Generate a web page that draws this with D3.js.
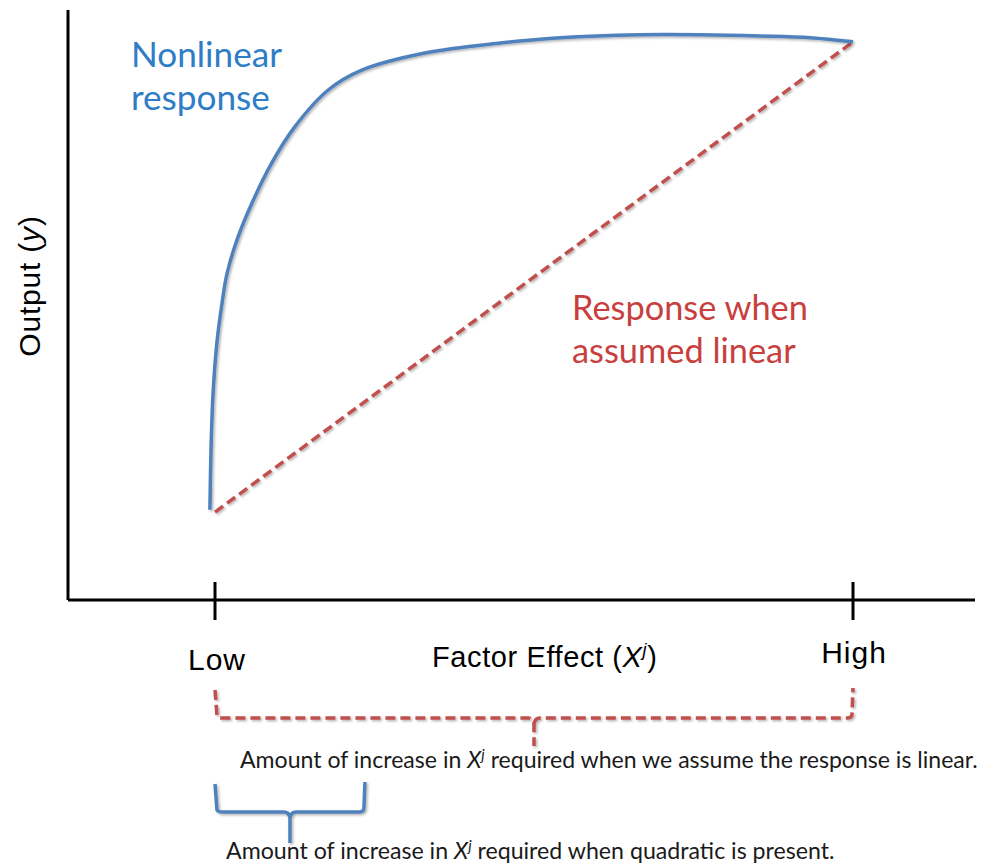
<!DOCTYPE html>
<html>
<head>
<meta charset="utf-8">
<script src="https://cdn.jsdelivr.net/npm/d3@7"></script>
<style>
  body { margin: 0; background: #fff; }
  svg { display: block; }
</style>
</head>
<body>
<svg width="984" height="867"></svg>
<script>
// factor level positions (0 = Low, 1 = High)
const levels = ['Low', 'High'];
const levelX = [0, 1];

// nonlinear response
const curveX = [-0.008, -0.006, -0.003, 0.003, 0.011, 0.019, 0.036, 0.058, 0.089, 0.125,
  0.177, 0.230, 0.329, 0.447, 0.541, 0.666, 0.760, 0.854, 0.933, 1.0];
const curveY = [0.153, 0.266, 0.351, 0.436, 0.503, 0.554, 0.615, 0.673, 0.741, 0.802,
  0.864, 0.898, 0.927, 0.944, 0.953, 0.958, 0.958, 0.956, 0.953, 0.946];

// assumed linear response
const linearX = [0, 1];
const linearY = [0.149, 0.946];

// brackets: start / end in factor units
const linearSpan = [0, 1];
const quadSpan = [0, 0.235];

const blue = '#4f81bd';
const red = '#c0504d';
const sans = 'Liberation Sans, Arial, sans-serif';
const body = 'Lato, "Open Sans", sans-serif';

const svg = d3.select('svg');

const x = d3.scaleLinear().domain([0, 1]).range([215, 853]);
const y = d3.scaleLinear().domain([0, 1]).range([600, 10]);
const xMin = x.invert(68);
const xMax = x.invert(975);

// scale a text's font size so it spans the given width
function fit(sel, width) {
  const size = +sel.attr('font-size');
  const w = sel.node().getComputedTextLength();
  sel.attr('font-size', (size * width / w).toFixed(2));
  return sel;
}

const defs = svg.append('defs');
defs.append('filter').attr('id', 'shadow')
  .attr('x', '-10%').attr('y', '-10%').attr('width', '120%').attr('height', '120%')
  .append('feDropShadow')
  .attr('dx', 1.5).attr('dy', 1.5).attr('stdDeviation', 1.2)
  .attr('flood-color', '#000').attr('flood-opacity', 0.3);

// axes
svg.append('line')
  .attr('x1', x(xMin)).attr('x2', x(xMin))
  .attr('y1', y(1)).attr('y2', y(0))
  .attr('stroke', '#000').attr('stroke-width', 3);
svg.append('line')
  .attr('x1', x(xMin)).attr('x2', x(xMax))
  .attr('y1', y(0)).attr('y2', y(0))
  .attr('stroke', '#000').attr('stroke-width', 3);

// ticks and level labels
svg.selectAll('.tick')
  .data(levelX)
  .enter()
  .append('line')
  .attr('class', 'tick')
  .attr('x1', d => x(d)).attr('x2', d => x(d))
  .attr('y1', y(0) - 18).attr('y2', y(0) + 20)
  .attr('stroke', '#000').attr('stroke-width', 3);

svg.selectAll('.level')
  .data(levels)
  .enter()
  .append('text')
  .attr('class', 'level')
  .attr('x', (d, i) => x(levelX[i]) + (i === 0 ? 2 : 1))
  .attr('y', (d, i) => i === 0 ? 670 : 663)
  .attr('text-anchor', 'middle')
  .attr('font-family', sans)
  .attr('font-size', 30)
  .attr('letter-spacing', 1)
  .text(d => d);

// axis titles
const xt = svg.append('text')
  .attr('x', 432).attr('y', 667)
  .attr('font-family', sans).attr('font-size', 29)
  .attr('letter-spacing', 0.6);
xt.append('tspan').text('Factor Effect (');
xt.append('tspan').attr('font-style', 'italic').text('X');
xt.append('tspan').attr('font-style', 'italic').attr('font-size', 18).attr('dy', -11).text('j');
xt.append('tspan').attr('dy', 11).text(')');

const yt = svg.append('text')
  .attr('transform', 'translate(40,286) rotate(-90)')
  .attr('text-anchor', 'middle')
  .attr('font-family', sans).attr('font-size', 30)
  .attr('letter-spacing', 0.8);
yt.append('tspan').text('Output (');
yt.append('tspan').attr('font-style', 'italic').text('y');
yt.append('tspan').text(')');

// lines
const curveData = curveX.map((d, i) => ({x: d, y: curveY[i]}));
const linearData = linearX.map((d, i) => ({x: d, y: linearY[i]}));

const line = d3.line()
  .x(d => x(d.x))
  .y(d => y(d.y))
  .curve(d3.curveCatmullRom.alpha(0.5));

svg.append('path')
  .datum(linearData)
  .attr('d', line)
  .attr('fill', 'none')
  .attr('stroke', red)
  .attr('stroke-width', 3.5)
  .attr('stroke-dasharray', '10,5')
  .attr('filter', 'url(#shadow)');

svg.append('path')
  .datum(curveData)
  .attr('d', line)
  .attr('fill', 'none')
  .attr('stroke', blue)
  .attr('stroke-width', 3.5)
  .attr('filter', 'url(#shadow)');

// series labels
const nl = svg.selectAll('.nl')
  .data(['Nonlinear', 'response'])
  .enter()
  .append('text')
  .attr('x', 131)
  .attr('y', (d, i) => 67 + i * 43)
  .attr('font-family', body)
  .attr('font-size', 28)
  .attr('fill', '#2e7dc6')
  .text(d => d);
const nlSize = 28 * 151 / nl.nodes()[0].getComputedTextLength();
nl.attr('font-size', nlSize.toFixed(2));

const ln = svg.selectAll('.ln')
  .data(['Response when', 'assumed linear'])
  .enter()
  .append('text')
  .attr('x', 572)
  .attr('y', (d, i) => 320 + i * 43)
  .attr('font-family', body)
  .attr('font-size', 28)
  .attr('fill', '#c7403d')
  .text(d => d);
const lnSize = 28 * 236 / ln.nodes()[0].getComputedTextLength();
ln.attr('font-size', lnSize.toFixed(2));

// curly brackets
function bracket(span, top, bottom, tip) {
  const x0 = x(span[0]);
  const x1 = x(span[1]);
  const xm = (x0 + x1) / 2;
  return `M${x0},${top} L${x0 + 2},${bottom - 2} Q${x0 + 3},${bottom} ${x0 + 8},${bottom}` +
    ` L${xm - 6},${bottom} Q${xm - 1},${bottom} ${xm},${bottom + 6} L${xm},${tip}` +
    ` M${xm},${bottom + 6} Q${xm + 1},${bottom} ${xm + 6},${bottom}` +
    ` L${x1 - 6},${bottom} Q${x1 - 1},${bottom} ${x1 - 1},${bottom - 4} L${x1},${top - 2}`;
}

svg.append('path')
  .attr('d', bracket(linearSpan, 690, 718, 746))
  .attr('fill', 'none')
  .attr('stroke', red)
  .attr('stroke-width', 3.5)
  .attr('stroke-dasharray', '10,5')
  .attr('filter', 'url(#shadow)');

svg.append('path')
  .attr('d', bracket(quadSpan, 784, 812, 843))
  .attr('fill', 'none')
  .attr('stroke', blue)
  .attr('stroke-width', 3.5)
  .attr('filter', 'url(#shadow)');

// bracket captions
function caption(tx, ty, tail, width) {
  const t = svg.append('text')
    .attr('x', tx).attr('y', ty)
    .attr('font-family', body).attr('font-size', 20)
    .attr('fill', '#1a1a1a');
  t.append('tspan').text('Amount of increase in ');
  t.append('tspan').attr('font-style', 'italic').text('X');
  t.append('tspan').attr('font-style', 'italic').attr('font-size', '0.65em').attr('dy', -8).text('j');
  t.append('tspan').attr('dy', 8).text(' ' + tail);
  fit(t, width);
}
caption(240, 768, 'required when we assume the response is linear.', 738);
caption(226, 859, 'required when quadratic is present.', 609);
</script>
</body>
</html>
